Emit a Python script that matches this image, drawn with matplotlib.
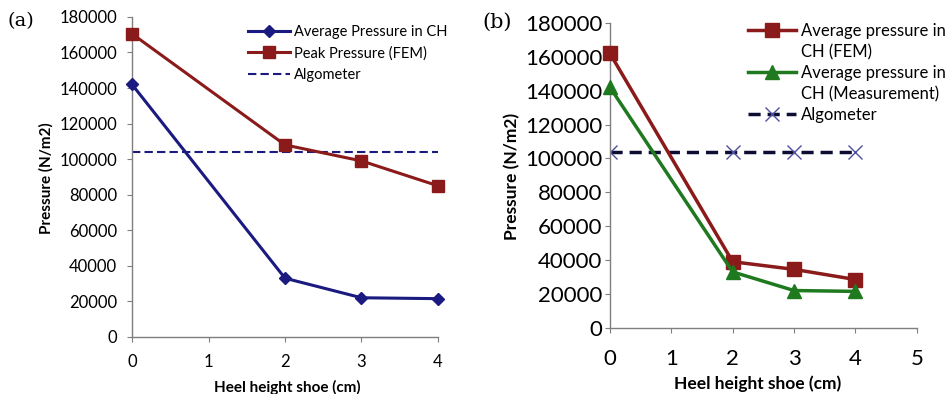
import matplotlib
matplotlib.use("Agg")
import matplotlib.pyplot as plt
from matplotlib.lines import Line2D
from matplotlib.ticker import MultipleLocator

# panel (a)
heel_a = [0, 2, 3, 4]
avg_ch = [142000, 33000, 22000, 21500]
peak_fem = [170500, 108000, 99000, 85000]
algometer_a = 104000

# panel (b)
heel_b = [0, 2, 3, 4]
avg_fem = [162000, 39000, 34500, 28500]
avg_meas = [142000, 33000, 22000, 21500]
algometer_b = [104000, 104000, 104000, 104000]

NAVY = "#1a1a80"
RED = "#8b1a1a"
GREEN = "#1f7a1f"

plt.rcParams["font.family"] = ["Lato", "DejaVu Sans"]

fig = plt.figure(figsize=(9.5, 3.94), dpi=100)
ax1 = fig.add_axes([0.139, 0.145, 0.322, 0.812])
ax2 = fig.add_axes([0.642, 0.168, 0.323, 0.774])


def style(ax, xmax, tick_fs, lab_fs, xpad, ypad):
    ax.set_ylim(0, 180000)
    ax.set_xlim(0, xmax)
    ax.yaxis.set_major_locator(MultipleLocator(20000))
    ax.xaxis.set_major_locator(MultipleLocator(1))
    for s in ("top", "right"):
        ax.spines[s].set_visible(False)
    for s in ("left", "bottom"):
        ax.spines[s].set_color("#7f7f7f")
        ax.spines[s].set_linewidth(1.0)
    ax.tick_params(axis="both", colors="#7f7f7f", labelcolor="black",
                   length=3.6, labelsize=tick_fs)
    ax.tick_params(axis="x", pad=xpad)
    ax.tick_params(axis="y", pad=ypad)
    ax.set_ylabel("Pressure (N/m2)", fontweight="bold", fontsize=lab_fs)
    ax.set_xlabel("Heel height shoe (cm)", fontweight="bold", fontsize=lab_fs)


# (a)
ax1.plot(heel_a, avg_ch, color=NAVY, lw=2.2, marker="D", ms=6,
         label="Average Pressure in CH", clip_on=False, zorder=3)
ax1.plot(heel_a, peak_fem, color=RED, lw=2.2, marker="s", ms=8.5,
         label="Peak Pressure (FEM)", clip_on=False, zorder=3)
ax1.axhline(algometer_a, color=NAVY, lw=1.5, ls=(0, (4, 2)), label="Algometer")
style(ax1, 4, 12, 11, 9, 7)
ax1.xaxis.set_label_coords(0.302, 0.036, transform=fig.transFigure)
ax1.yaxis.set_label_coords(0.056, 0.548, transform=fig.transFigure)
ax1.legend(loc="upper left", bbox_to_anchor=(0.378, 0.975), frameon=False,
           fontsize=10.5, handlelength=2.9, handletextpad=0.3,
           labelspacing=0.5, borderaxespad=0.0, borderpad=0.0)
fig.text(0.008, 0.947, "(a)", family="DejaVu Serif", fontsize=14, va="center")

# (b)
l_fem, = ax2.plot(heel_b, avg_fem, color=RED, lw=2.5, marker="s", ms=10,
                  clip_on=False, zorder=3)
l_meas, = ax2.plot(heel_b, avg_meas, color=GREEN, lw=2.5, marker="^", ms=10,
                   clip_on=False, zorder=3)
l_alg, = ax2.plot(heel_b, algometer_b, color="#0d0d33", lw=2.5, ls=(0, (3.5, 2)),
                  marker="x", ms=10, mec="#5050a0", mew=1.0, zorder=2)
style(ax2, 5, 16, 12.5, 11.5, 2)
ax2.xaxis.set_label_coords(0.798, 0.048, transform=fig.transFigure)
ax2.yaxis.set_label_coords(0.548, 0.552, transform=fig.transFigure)
blank = Line2D([], [], linestyle="none")
ax2.legend([l_fem, blank, l_meas, blank, l_alg],
           ["Average pressure in", "CH (FEM)", "Average pressure in",
            "CH (Measurement)", "Algometer"],
           loc="upper left", bbox_to_anchor=(0.45, 1.0), frameon=False,
           fontsize=12, handlelength=2.9, handletextpad=0.3,
           labelspacing=0.3, borderaxespad=0.0, borderpad=0.0)
fig.text(0.508, 0.944, "(b)", family="DejaVu Serif", fontsize=15, va="center")

fig.savefig("out.png", dpi=100)
